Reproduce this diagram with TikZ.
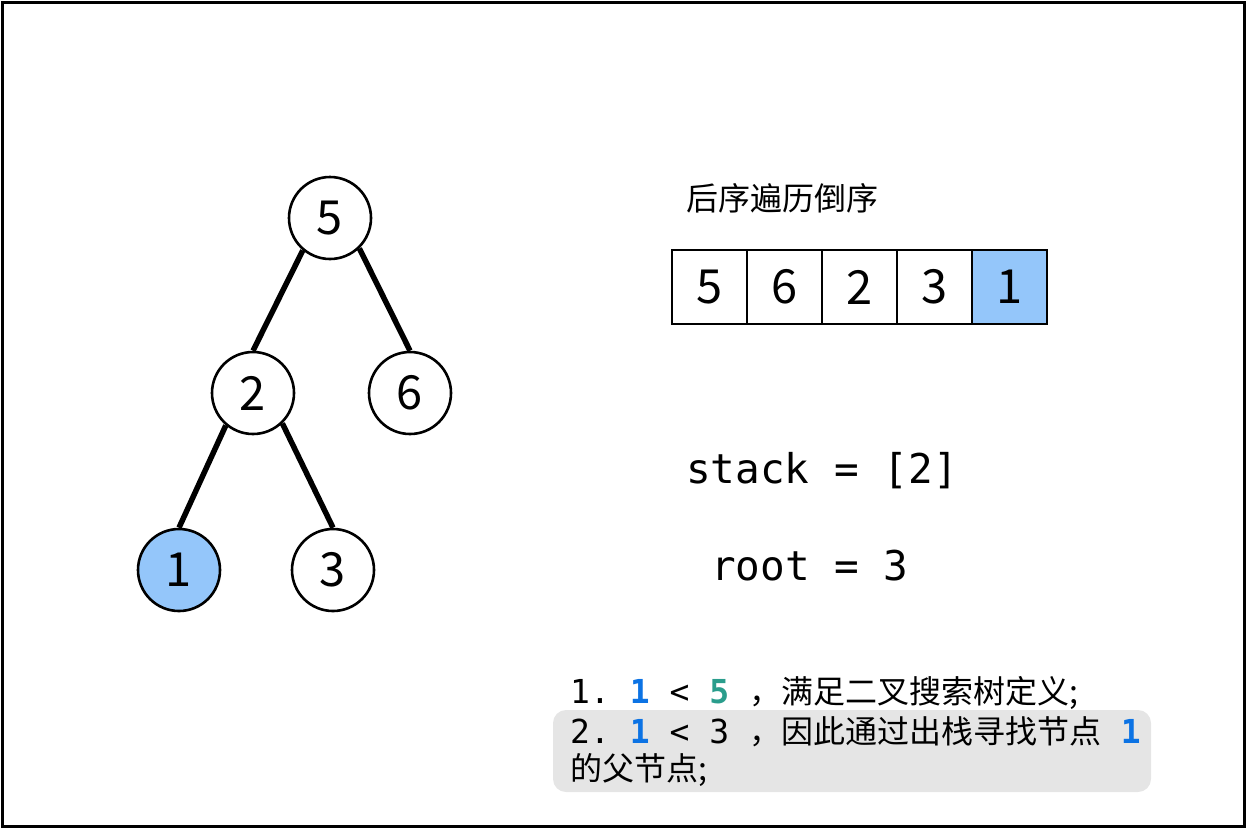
\documentclass[tikz,border=0pt]{standalone}
\usepackage{fontspec}
\setmainfont{Noto Sans CJK SC}
\newfontfamily\cjk{Noto Sans CJK SC}
\newfontfamily\mono{DejaVu Sans Mono}
\definecolor{nodeblue}{RGB}{148,198,250}
\definecolor{txtblue}{RGB}{12,115,228}
\definecolor{txtteal}{RGB}{42,157,140}
\definecolor{boxgray}{RGB}{229,229,229}
\tikzset{
  tnode/.style={circle, draw=black, line width=2.6pt, minimum size=82pt, inner sep=0pt, font=\fontsize{47}{47}\selectfont, fill=white},
  hl/.style={fill=nodeblue},
  edge/.style={line width=5.5pt},
  cell/.style={rectangle, draw=black, line width=2.6pt, minimum width=75pt, minimum height=74pt, inner sep=0pt, font=\fontsize{47}{47}\selectfont, fill=white},
  codetxt/.style={anchor=base west, inner sep=0pt, font=\mono\fontsize{41}{41}\selectfont},
  notetxt/.style={anchor=base west, inner sep=0pt, font=\frenchspacing\fontsize{33}{33}\selectfont},
}
\newcommand{\cj}[1]{{\cjk\fontsize{32}{32}\selectfont #1}}
\newcommand{\mo}[1]{{\mono #1}}
\begin{document}
\begin{tikzpicture}[x=1pt,y=-1pt]
\useasboundingbox (0,0) rectangle (1246,828);
\draw[line width=3pt] (2,2) rectangle (1244,826);
% tree
\node[tnode] (n5) at (330,218) {5};
\node[tnode] (n2) at (253,393) {2};
\node[tnode] (n6) at (410,393) {6};
\node[tnode,hl] (n1) at (179,570) {1};
\node[tnode] (n3) at (333,570) {3};
\draw[edge] (n5.230) -- (n2.north);
\draw[edge] (n5.314) -- (n6.north);
\draw[edge] (n2.230) -- (n1.north);
\draw[edge] (n2.314) -- (n3.north);
% title
\node[anchor=base west, inner sep=0pt, font=\fontsize{32}{32}\selectfont] (title) at (686,210) {后序遍历倒序};
% array
\node[cell] (c1) at (709.5,287) {5};
\node[cell] (c2) at (784.5,287) {6};
\node[cell] (c3) at (859.5,287) {2};
\node[cell] (c4) at (934.5,287) {3};
\node[cell,hl] (c5) at (1009.5,287) {1};
% code
\node[codetxt] (stack) at (686,483) {stack = [2]};
\node[codetxt] (root) at (711,580) {root = 3};
% notes
\node[rectangle, rounded corners=13pt, fill=boxgray, minimum width=598pt, minimum height=82pt, inner sep=0pt] (box) at (852,751) {};
\node[notetxt] (l1) at (570,703) {\mo{1. {\bfseries\color{txtblue}1} < {\bfseries\color{txtteal}5} }\cj{，满足二叉搜索树定义;}};
\node[notetxt] (l2) at (570,743) {\mo{2. {\bfseries\color{txtblue}1} < 3 }\cj{，因此通过出栈寻找节点}\mo{ {\bfseries\color{txtblue}1}}};
\node[notetxt] (l3) at (570,780) {\cj{的父节点;}};
\end{tikzpicture}
\end{document}
